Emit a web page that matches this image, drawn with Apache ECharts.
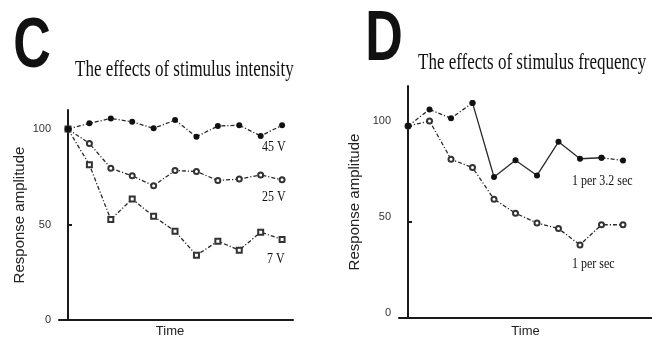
<!DOCTYPE html>
<html><head><meta charset="utf-8">
<script src="https://cdn.jsdelivr.net/npm/echarts@6/dist/echarts.min.js"></script>
<style>html,body{margin:0;padding:0;background:#fff}#c{width:652px;height:343px}</style>
</head><body><div id="c"></div>
<script>
// time steps (index of stimulus)
const timeSteps = [0, 1, 2, 3, 4, 5, 6, 7, 8, 9, 10];
// Panel C: effects of stimulus intensity
const intensity45V = [100, 103, 105.6, 103.8, 100.4, 104.7, 96, 101.6, 102, 96.4, 102];
const intensity25V = [100, 92.5, 79.5, 75.5, 70.3, 78.3, 77.8, 73.1, 73.8, 76, 73.4];
const intensity7V  = [100, 81.3, 52.6, 63.4, 54.3, 46.5, 33.9, 41.3, 36.6, 46, 42.2];
// Panel D: effects of stimulus frequency
const freqSlow = [100, 108.7, 104.1, 112.1, 73.5, 82.2, 74.3, 91.8, 83, 83.5, 82.1];
const freqFast = [100, 102.7, 82.7, 78.4, 61.9, 54.6, 49.5, 46.6, 38.1, 48.6, 48.6];
// tick labels
const yTicks = [0, 50, 100];
const seriesNamesC = ['45 V', '25 V', '7 V'];
const seriesNamesD = ['1 per 3.2 sec', '1 per sec'];

const toPts = (arr, keep) => arr.map((v, i) => [timeSteps[i], (keep ? keep(i) : true) ? v : '-']);
const dashDot = [4, 2, 1.2, 2];
const sans = 'Liberation Sans, Arial, sans-serif';
const serif = 'Liberation Serif, Times New Roman, serif';

function yAxisCfg(grid, max, gap, labelExtra) {
  return {
    gridIndex: grid, type: 'value', min: 0, max: max, interval: 50,
    axisLine: {show: true, lineStyle: {color: '#1a1a1a', width: 2}},
    axisTick: {show: true, inside: true, length: 4, lineStyle: {color: '#1a1a1a', width: 2}, customValues: [50, 100]},
    axisLabel: Object.assign({customValues: yTicks, color: '#333', fontSize: 11, margin: 8, fontFamily: sans}, labelExtra || {}),
    splitLine: {show: false},
    name: 'Response amplitude', nameLocation: 'middle', nameGap: gap,
    nameTextStyle: {fontFamily: sans, fontSize: 15, color: '#222'}
  };
}
function xAxisCfg(grid, max, gap, pad) {
  return {
    gridIndex: grid, type: 'value', min: -0.42, max: max,
    axisLine: {show: true, onZero: false, lineStyle: {color: '#1a1a1a', width: 2}},
    axisTick: {show: false}, axisLabel: {show: false}, splitLine: {show: false},
    name: 'Time', nameLocation: 'middle', nameGap: gap,
    nameTextStyle: {fontFamily: sans, fontSize: 13, color: '#222', padding: pad}
  };
}
function lineSeries(name, xi, data, symbol, type, z) {
  const filled = symbol === 'circle';
  return {
    name: name, type: 'line', xAxisIndex: xi, yAxisIndex: xi, data: data,
    symbol: symbol, symbolSize: filled ? 6 : 5, showAllSymbol: true,
    itemStyle: filled ? {color: '#111'} : {color: '#333', borderWidth: 1.2},
    lineStyle: {color: '#2a2a2a', width: 1.3, type: type},
    connectNulls: false, z: z || 2, animation: false
  };
}

const chart = echarts.init(document.getElementById('c'), null, {renderer: 'canvas'});
const txt = (t, x, y, font, align, sy) => ({
  type: 'text', x: x, y: y, scaleY: sy, silent: true,
  style: {text: t, font: font, fill: '#111', align: align, verticalAlign: 'middle', textAlign: align, textVerticalAlign: 'middle'}
});

chart.setOption({
  animation: false,
  grid: [
    {left: 59, right: 359, top: 110, bottom: 22},
    {left: 399, right: 0, top: 86, bottom: 20}
  ],
  xAxis: [xAxisCfg(0, 10.51, 5, [0, 12, 0, 0]), xAxisCfg(1, 11.35, 7, [0, 0, 0, 0])],
  yAxis: [yAxisCfg(0, 110, 32), yAxisCfg(1, 120.9, 37, {verticalAlign: 'bottom', padding: [0, 0, 0, 0]})],
  series: [
    lineSeries(seriesNamesC[1], 0, toPts(intensity25V), 'emptyCircle', dashDot),
    lineSeries(seriesNamesC[2], 0, toPts(intensity7V), 'emptyRect', dashDot),
    lineSeries(seriesNamesC[0], 0, toPts(intensity45V), 'circle', dashDot, 3),
    lineSeries(seriesNamesD[1], 1, toPts(freqFast), 'emptyCircle', dashDot),
    lineSeries(seriesNamesD[0], 1, toPts(freqSlow, i => i <= 3 || i >= 9), 'circle', dashDot, 3),
    lineSeries(seriesNamesD[0], 1, toPts(freqSlow, i => i >= 3 && i <= 9), 'circle', 'solid', 3)
  ],
  graphic: [
    txt('C', 32, 48, 'bold 52px ' + sans, 'center', 1.34),
    txt('D', 384, 41, 'bold 52px ' + sans, 'center', 1.34),
    txt('The effects of stimulus intensity', 75, 70, '17px ' + serif, 'left', 1.3),
    txt('The effects of stimulus frequency', 418, 63, '17px ' + serif, 'left', 1.3),
    txt(seriesNamesC[0], 262, 147, '12px ' + serif, 'left', 1.3),
    txt(seriesNamesC[1], 262, 197, '12px ' + serif, 'left', 1.3),
    txt(seriesNamesC[2], 267, 259, '12px ' + serif, 'left', 1.3),
    txt(seriesNamesD[0], 572, 181, '12px ' + serif, 'left', 1.3),
    txt(seriesNamesD[1], 572, 264, '12px ' + serif, 'left', 1.3)
  ]
});
</script></body></html>
